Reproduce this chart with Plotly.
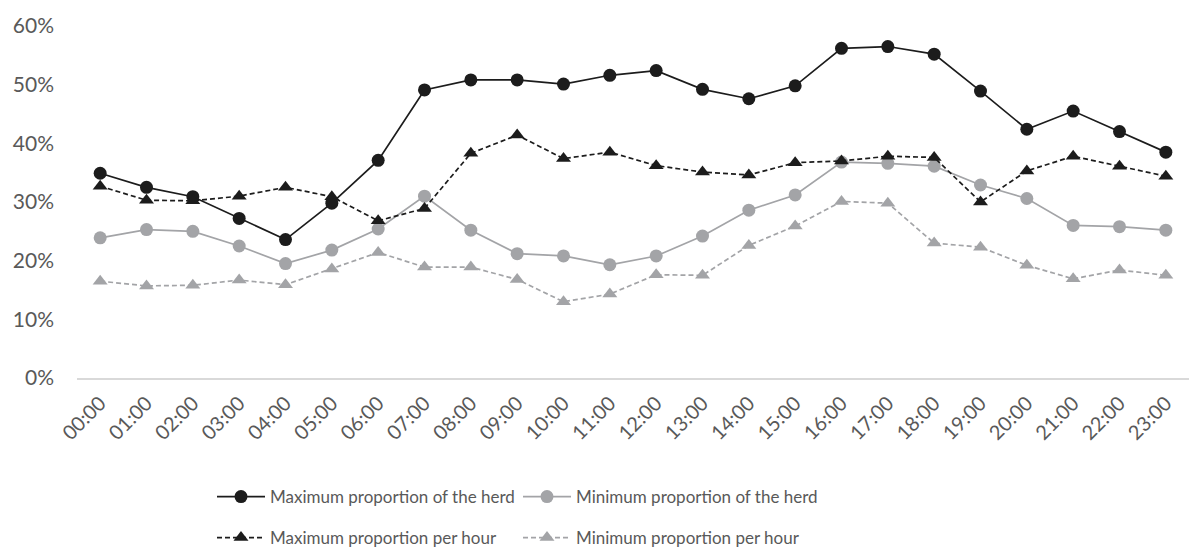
import plotly.graph_objects as go

hours = [f"{h:02d}:00" for h in range(24)]

max_herd = [34.9, 32.5, 30.9, 27.2, 23.6, 29.8, 37.1, 49.1, 50.8, 50.8, 50.1, 51.6,
            52.4, 49.2, 47.6, 49.8, 56.2, 56.5, 55.2, 48.9, 42.4, 45.5, 42.0, 38.5]
min_herd = [23.9, 25.3, 25.0, 22.5, 19.5, 21.8, 25.4, 31.0, 25.2, 21.2, 20.8, 19.3,
            20.8, 24.2, 28.6, 31.2, 36.8, 36.6, 36.1, 32.9, 30.6, 26.0, 25.8, 25.2]
max_hour = [32.7, 30.3, 30.2, 31.0, 32.5, 30.9, 26.8, 28.9, 38.3, 41.4, 37.4, 38.5,
            36.2, 35.1, 34.6, 36.7, 37.0, 37.8, 37.6, 30.0, 35.3, 37.8, 36.1, 34.4]
min_hour = [16.5, 15.7, 15.8, 16.7, 15.9, 18.6, 21.4, 18.9, 18.9, 16.8, 13.0, 14.3,
            17.6, 17.5, 22.6, 25.9, 30.1, 29.8, 23.0, 22.3, 19.2, 16.9, 18.4, 17.5]

BLACK = "#1c1c1c"
GRAY = "#a3a4a7"
FONT = "Lato"
TEXT = "#595959"

x_idx = list(range(len(hours)))

# (name, values, colour, marker symbol, dash, legend id)
series = [
    ("Maximum proportion of the herd", max_herd, BLACK, "circle", "solid", "legend"),
    ("Minimum proportion of the herd", min_herd, GRAY, "circle", "solid", "legend2"),
    ("Maximum proportion per hour", max_hour, BLACK, "triangle-up", "5px,3px", "legend3"),
    ("Minimum proportion per hour", min_hour, GRAY, "triangle-up", "5px,3px", "legend4"),
]

fig = go.Figure()
for name, vals, color, sym, dash, leg in series:
    fig.add_trace(go.Scatter(
        x=x_idx, y=[v / 100 for v in vals], name=name, mode="lines+markers",
        line=dict(color=color, width=1.7, dash=dash),
        marker=dict(symbol=sym, size=13, color=color), legend=leg))

legend_common = dict(
    orientation="h", xref="container", yref="container", xanchor="left",
    yanchor="middle", font=dict(family=FONT, size=17, color=TEXT),
    bgcolor="rgba(0,0,0,0)", itemwidth=48,
)
col1, col2 = 212 / 1204, 518 / 1204
row1, row2 = 1 - 497 / 549, 1 - 538 / 549

fig.update_layout(
    width=1204, height=549,
    margin=dict(l=77, r=15, t=24, b=171),
    paper_bgcolor="white", plot_bgcolor="white",
    font=dict(family=FONT, size=21, color=TEXT),
    legend=dict(legend_common, x=col1, y=row1),
    legend2=dict(legend_common, x=col2, y=row1),
    legend3=dict(legend_common, x=col1, y=row2),
    legend4=dict(legend_common, x=col2, y=row2),
    showlegend=True,
)
fig.update_xaxes(
    range=[-0.5, len(hours) - 0.5], tickmode="array", tickvals=x_idx, ticktext=hours,
    tickangle=-45, showgrid=False, zeroline=False, showline=True,
    linecolor="#d9d9d9", linewidth=1.5, ticks="", ticklabelstandoff=4,
    tickfont=dict(family=FONT, size=20, color=TEXT),
)
fig.update_yaxes(
    range=[0, 0.6], dtick=0.1, tickformat=".0%", showgrid=False, zeroline=False,
    showline=False, ticks="", ticklabelstandoff=22,
    tickfont=dict(family=FONT, size=21, color=TEXT),
)

fig.write_html("out.html")
